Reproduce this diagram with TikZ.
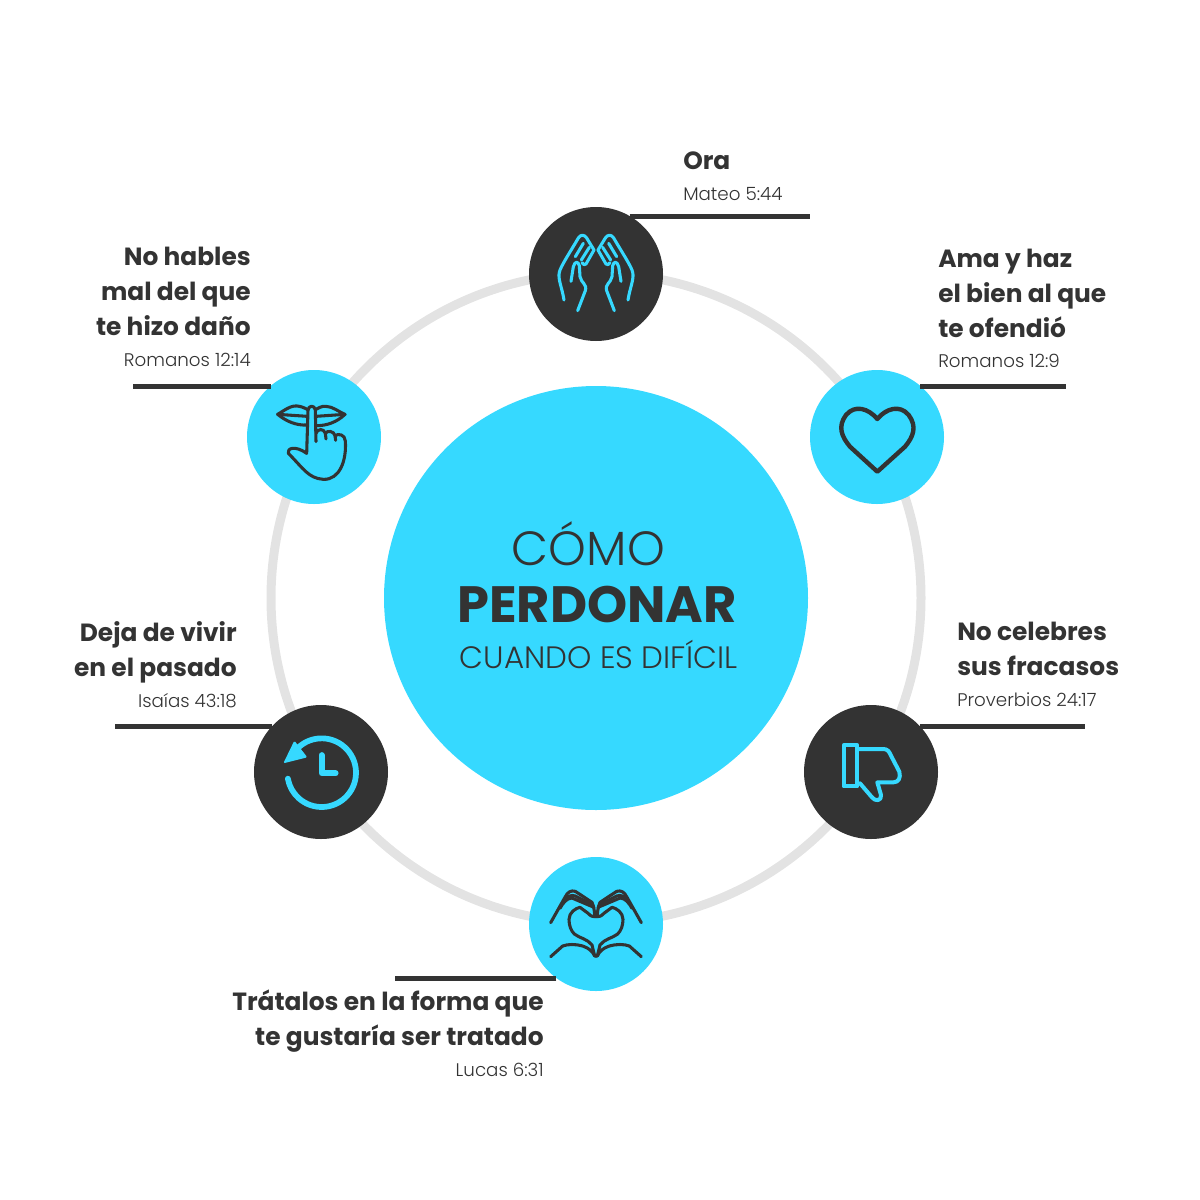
\documentclass[tikz,border=0pt]{standalone}
\usepackage{fontspec}
\setmainfont{Poppins}[UprightFont=* Light,BoldFont=* Bold]
\newfontfamily\heavyfont{Poppins Bold}
\usetikzlibrary{calc}
\definecolor{cyanhub}{HTML}{36D9FF}
\definecolor{darkhub}{HTML}{333333}
\definecolor{ringgray}{HTML}{E3E3E3}
\def\centerarc[#1](#2)(#3:#4:#5){\draw[#1] ($(#2)+({#5*cos(#3)},{#5*sin(#3)})$) arc (#3:#4:#5);}
\def\prayhand{
	\draw[cyanline] (-96,78) .. controls (-102,40) and (-115,15) .. (-110,-5) .. controls (-108,-20) and (-75,-70) .. (-53,-108) .. controls (-45,-120) and (-35,-118) .. (-28,-108) -- (-6,-72) -- (-30,-30) .. controls (-34,-26) and (-38,-28) .. (-42,-34);
	\draw[cyanline] (-75,22) -- (-68,-22) .. controls (-63,-40) and (-53,-38) .. (-50,-25) -- (-48,8) .. controls (-44,28) and (-26,30) .. (-32,50) -- (-55,110);
	\draw[cyanline] (-62,-52) -- (-38,-92);
	\draw[cyanline] (-44,-42) -- (-20,-80);
}
\def\heartfingers{
	\draw[darkline] (-136,-4) -- (-92,-82) .. controls (-85,-96) and (-75,-102) .. (-62,-98) -- (-12,-65) .. controls (-5,-50) and (-5,-35) .. (-3,-22) -- (0,-22);
	\draw[darkline] (-108,-47) .. controls (-100,-62) and (-88,-78) .. (-72,-78) -- (-6,-50);
	\draw[darkline] (-96,-68) .. controls (-85,-85) and (-75,-88) .. (-62,-84) -- (-10,-58);
	\draw[darkline] (-3,-22) .. controls (-15,-22) and (-20,-28) .. (-25,-33) -- (-48,-50) .. controls (-60,-48) and (-81,-35) .. (-81,-14) .. controls (-81,5) and (-75,20) .. (-65,30) .. controls (-50,42) and (-25,45) .. (-12,63) -- (-4,96) -- (0,96);
	\draw[darkline] (-136,98) -- (-100,66) .. controls (-85,60) and (-60,60) .. (-40,66) .. controls (-22,72) and (-10,82) .. (-4,96);
}
\tikzset{
	hubdark/.style={circle,fill=darkhub,minimum size=100.5pt,inner sep=0},
	hublight/.style={circle,fill=cyanhub,minimum size=100.5pt,inner sep=0},
	leader/.style={line width=3.4pt,darkhub},
	headtext/.style={font=\fontsize{18.66}{26.25}\selectfont\bfseries,text=darkhub,inner sep=0},
	versetext/.style={font=\fontsize{13.7}{16}\selectfont,text=darkhub,inner sep=0},
	darkline/.style={line width=2.3pt,draw=darkhub,line cap=round,line join=round},
	cyanline/.style={line width=2.3pt,draw=cyanhub,line cap=round,line join=round},
}
\begin{document}
\begin{tikzpicture}[x=0.75pt,y=-0.75pt]
	\useasboundingbox (0,0) rectangle (1200,1200);
	%%%%% ring and centre %%%%%
	\node (ring) [circle,draw=ringgray,line width=6.75pt,minimum size=487.5pt,inner sep=0] at (596,598) {};
	\node (centre) [circle,fill=cyanhub,minimum size=318pt,inner sep=0] at (596,598) {};
	\node (como) [anchor=base,text=darkhub,inner sep=0,font=\fontsize{36}{40}\selectfont] at (588.5,565) {CÓMO};
	\node (perdonar) [anchor=base,text=darkhub,inner sep=0,font=\heavyfont\fontsize{38.3}{40}\selectfont] at (597,622) {PERDONAR};
	\node (cuando) [anchor=base,text=darkhub,inner sep=0,font=\fontsize{23.2}{26}\selectfont] at (598.5,668) {CUANDO ES DIFÍCIL};
	%%%%% hubs %%%%%
	\node (ora) [hubdark] at (596,274) {};
	\node (ama) [hublight] at (877,437) {};
	\node (celebres) [hubdark] at (871,772) {};
	\node (tratalos) [hublight] at (596,924) {};
	\node (pasado) [hubdark] at (321,772) {};
	\node (hables) [hublight] at (314,437) {};
	%%%%% leaders %%%%%
	\coordinate (oraend) at (810,216.5);
	\coordinate (amaend) at (1066,386.5);
	\coordinate (celebresend) at (1085,726.5);
	\coordinate (tratalosend) at (395,978.5);
	\coordinate (pasadoend) at (115,726.5);
	\coordinate (hablesend) at (133,386.5);
	\draw[leader] (ora.60 |- oraend) -- (oraend);
	\draw[leader] (ama.50 |- amaend) -- (amaend);
	\draw[leader] (celebres.43 |- celebresend) -- (celebresend);
	\draw[leader] (tratalos.234 |- tratalosend) -- (tratalosend);
	\draw[leader] (pasado.137 |- pasadoend) -- (pasadoend);
	\draw[leader] (hables.130 |- hablesend) -- (hablesend);
	%%%%% texts %%%%%
	\node (orahead) [headtext,anchor=base west] at (683,169) {Ora};
	\node (oraverse) [versetext,anchor=base west] at (683,200) {Mateo 5:44};
	\node (amahead) [headtext,anchor=base west,align=left] at (938,337) {Ama y haz\\el bien al que\\te ofendió};
	\node (amaverse) [versetext,anchor=base west] at (938,367) {Romanos 12:9};
	\node (celebreshead) [headtext,anchor=base west,align=left] at (957,675) {No celebres\\sus fracasos};
	\node (celebresverse) [versetext,anchor=base west] at (957,706) {Proverbios 24:17};
	\node (trataloshead) [headtext,anchor=base east,align=right] at (544,1045) {Trátalos en la forma que\\te gustaría ser tratado};
	\node (tratalosverse) [versetext,anchor=base east] at (544,1076) {Lucas 6:31};
	\node (pasadohead) [headtext,anchor=base east,align=right] at (237,676) {Deja de vivir\\en el pasado};
	\node (pasadoverse) [versetext,anchor=base east] at (237,707) {Isaías 43:18};
	\node (hableshead) [headtext,anchor=base east,align=right] at (251,335) {No hables\\mal del que\\te hizo daño};
	\node (hablesverse) [versetext,anchor=base east] at (251,366) {Romanos 12:14};
	%%%%% praying hands %%%%%
	\begin{scope}[shift={(596,274)},xscale=1/3,yscale=1/3]
		\prayhand
	\end{scope}
	\begin{scope}[shift={(596,274)},xscale=-1/3,yscale=1/3]
		\prayhand
	\end{scope}
	%%%%% heart %%%%%
	\begin{scope}[shift={(800,365)},xscale=1/3,yscale=1/3]
		\draw[darkline,line width=3.3pt] (232,162) .. controls (205,130) and (165,118) .. (138,150) .. controls (112,185) and (125,215) .. (150,245) -- (232,320) -- (315,245) .. controls (340,215) and (352,185) .. (326,150) .. controls (300,118) and (258,130) .. (232,162) -- cycle;
	\end{scope}
	%%%%% thumb %%%%%
	\begin{scope}[shift={(800,700)},xscale=1/3,yscale=1/3]
		\draw[cyanline,line width=3pt] (131,136) rectangle (172,259);
		\draw[cyanline,line width=3pt] (172,147) -- (250,147) .. controls (262,147) and (268,155) .. (272,165) -- (298,215) .. controls (303,235) and (295,247) .. (280,247) -- (232,247) -- (243,285) .. controls (246,303) and (225,305) .. (216,292) -- (180,250);
	\end{scope}
	%%%%% heart hands %%%%%
	\begin{scope}[shift={(596,924)},xscale=1/3,yscale=1/3]
		\heartfingers
	\end{scope}
	\begin{scope}[shift={(596,924)},xscale=-1/3,yscale=1/3]
		\heartfingers
	\end{scope}
	%%%%% clock %%%%%
	\begin{scope}[shift={(245,700)},xscale=1/3,yscale=1/3]
		\coordinate (clockc) at (230,218);
		\centerarc[cyanline,line width=4.3pt](clockc)(222:530:103)
		\draw[cyanline,line width=4.3pt] (230,165) -- (230,220) -- (272,220);
		\fill[cyanhub,rounded corners=1pt] (115,190) -- (148,122) -- (187,172) -- cycle;
	\end{scope}
	%%%%% lips %%%%%
	\begin{scope}[shift={(240,365)},xscale=1/3,yscale=1/3]
		\draw[darkline] (113,148) .. controls (135,135) and (155,118) .. (178,124) .. controls (190,126) and (198,132) .. (204,134);
		\draw[darkline] (226,134) .. controls (235,130) and (245,122) .. (258,124) .. controls (280,125) and (295,140) .. (315,148);
		\draw[darkline] (113,148) -- (202,154);
		\draw[darkline] (228,154) -- (315,148);
		\draw[darkline] (113,148) .. controls (140,170) and (170,182) .. (202,180);
		\draw[darkline] (230,182) .. controls (260,182) and (290,172) .. (315,148);
		\draw[darkline] (200,265) -- (204,135) .. controls (206,120) and (224,120) .. (226,135) -- (228,230);
		\draw[darkline] (228,205) .. controls (232,190) and (252,190) .. (256,205) -- (258,222);
		\draw[darkline] (256,205) .. controls (262,195) and (282,198) .. (285,212) -- (287,226);
		\draw[darkline] (285,212) .. controls (295,205) and (315,208) .. (316,228) .. controls (320,285) and (300,345) .. (250,343) .. controls (205,340) and (190,310) .. (145,265) .. controls (140,250) and (165,240) .. (200,265);
	\end{scope}
\end{tikzpicture}
\end{document}
